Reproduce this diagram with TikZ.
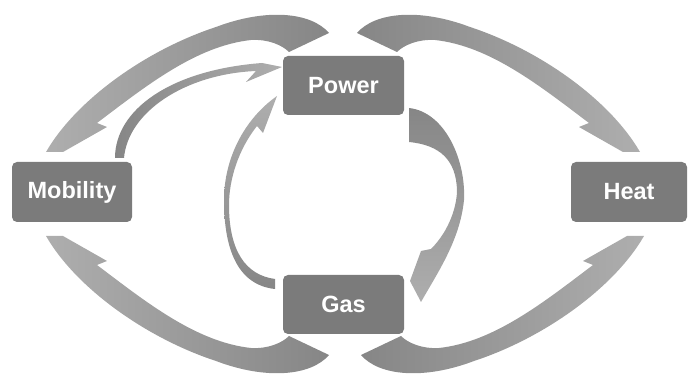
\documentclass[tikz,border=0pt]{standalone}
\usepackage{fontspec}
\newfontfamily\boxfont{Liberation Sans}
\usetikzlibrary{positioning}
\definecolor{boxgray}{RGB}{123,123,123}
\definecolor{taildark}{RGB}{134,134,134}
\definecolor{headlight}{RGB}{174,174,174}

% outline of the big outer arrow (tail at Power, head at Heat), in pixel units
\newcommand{\outerflow}{(357,33) .. controls (375,12) and (420,8) .. (470,27)
  .. controls (540,50) and (610,100) .. (640,152) -- (623,152) -- (579,127) -- (589,123)
  .. controls (540,86) and (490,46) .. (435,40)
  .. controls (418,39) and (404,45) .. (397,52) -- cycle}

\begin{document}
\begin{tikzpicture}[x=1pt, y=-1pt,
  box/.style={fill=boxgray, rounded corners=5pt, minimum width=121pt, minimum height=59pt,
              text=white, font=\boxfont\bfseries\fontsize{23.5}{27}\selectfont}
]
  \useasboundingbox (0,0) rectangle (689,374);

  % outer loop: Power -> Heat, Power -> Mobility, Gas -> Heat, Gas -> Mobility
  \shade[left color=taildark, right color=headlight] \outerflow;
  \begin{scope}[shift={(686,0)}, xscale=-1]
    \shade[left color=headlight, right color=taildark] \outerflow;
  \end{scope}
  \begin{scope}[shift={(4,388)}, yscale=-1]
    \shade[left color=taildark, right color=headlight] \outerflow;
  \end{scope}
  \begin{scope}[shift={(686,388)}, xscale=-1, yscale=-1]
    \shade[left color=headlight, right color=taildark] \outerflow;
  \end{scope}

  % Mobility -> Power
  \shade[left color=taildark, right color=headlight] (115,158) .. controls (115,110) and (170,70) .. (262,63)
    -- (282,67) -- (246,82) -- (256,71)
    .. controls (185,74) and (128,112) .. (124,158) -- cycle;

  % Gas -> Power
  \shade[bottom color=taildark, top color=headlight] (275,289) .. controls (238,285) and (224,250) .. (224,200)
    .. controls (224,160) and (243,120) .. (277,96) -- (263,133) -- (257,126)
    .. controls (238,150) and (229,180) .. (229,205)
    .. controls (229,250) and (245,275) .. (275,279) -- cycle;

  % Power -> Gas
  \shade[top color=taildark, bottom color=headlight] (409,108) .. controls (445,112) and (466,160) .. (464,200)
    .. controls (460,240) and (438,272) .. (421,302) -- (410,281) -- (421,251) -- (431,249)
    .. controls (450,230) and (457,205) .. (457,190)
    .. controls (456,160) and (440,145) .. (409,142) -- cycle;

  \node[box] (power) at (343.5,85.5) {Power};
  \node[box] (gas) at (343.5,304.5) {Gas};
  \node[box, minimum width=120pt, minimum height=60pt] (mobility) at (72,192) {Mobility};
  \node[box, minimum width=116pt, minimum height=60pt] (heat) at (629,192) {Heat};
\end{tikzpicture}
\end{document}
